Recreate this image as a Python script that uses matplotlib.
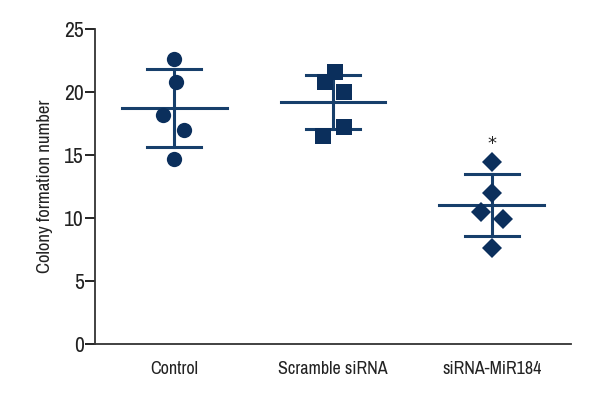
import matplotlib
matplotlib.use('Agg')
import matplotlib.pyplot as plt
import numpy as np

plt.rcParams['font.family'] = ['Archivo Narrow', 'Liberation Sans Narrow', 'DejaVu Sans']

# Datos
groups = ['Control', 'Scramble siRNA', 'siRNA-MiR184']
control_vals = [22.6, 20.8, 18.2, 17.0, 14.7]
scramble_vals = [21.6, 20.8, 20.0, 17.2, 16.5]
mir184_vals = [14.4, 12.0, 10.5, 9.9, 7.6]
control_dx = [0.0, 0.01, -0.07, 0.06, 0.0]
scramble_dx = [0.01, -0.05, 0.07, 0.07, -0.06]
mir184_dx = [0.0, 0.0, -0.07, 0.07, 0.0]
means = [18.7, 19.2, 11.0]
sds = [3.1, 2.15, 2.45]
sig_label = '*'
sig_y = 15.9

color = '#0b2f5c'
line_color = '#173f6b'

fig, ax = plt.subplots(figsize=(6, 4), dpi=100)
fig.subplots_adjust(left=0.158, right=0.952, bottom=0.14, top=0.928)

series = [(control_vals, control_dx, 'o', 11),
          (scramble_vals, scramble_dx, 's', 11),
          (mir184_vals, mir184_dx, 'D', 10.5)]

for i, (vals, dx, mk, ms) in enumerate(series):
    # linea de media y barras de desviación
    ax.plot([i - 0.33, i + 0.33], [means[i], means[i]], color=line_color, lw=2.2, zorder=2)
    ax.plot([i, i], [means[i] - sds[i], means[i] + sds[i]], color=line_color, lw=2.2, zorder=2)
    for y in (means[i] - sds[i], means[i] + sds[i]):
        ax.plot([i - 0.17, i + 0.17], [y, y], color=line_color, lw=2.2, zorder=2)
    ax.plot(np.array(dx) + i, vals, linestyle='none', marker=mk, ms=ms,
            color=color, markeredgewidth=0, zorder=3)

ax.text(2, sig_y, sig_label, ha='center', va='center', fontsize=13,
        family='DejaVu Sans', color='#222222')

ax.set_xlim(-0.5, 2.5)
ax.set_ylim(0, 25)
ax.set_xticks(range(len(groups)))
ax.set_xticklabels(groups, fontsize=13, color='#222222')
ax.tick_params(axis='x', length=0, pad=12)
ax.set_yticks([0, 5, 10, 15, 20, 25])
ax.tick_params(axis='y', labelsize=15.5, length=7, width=1.2, pad=1, labelcolor='#222222')
ax.set_ylabel('Colony formation number', fontsize=13.5, labelpad=8, color='#222222')
for s in ['top', 'right']:
    ax.spines[s].set_visible(False)
for s in ['left', 'bottom']:
    ax.spines[s].set_linewidth(1.3)
    ax.spines[s].set_color('#333333')

fig.savefig('out.png', dpi=100)
